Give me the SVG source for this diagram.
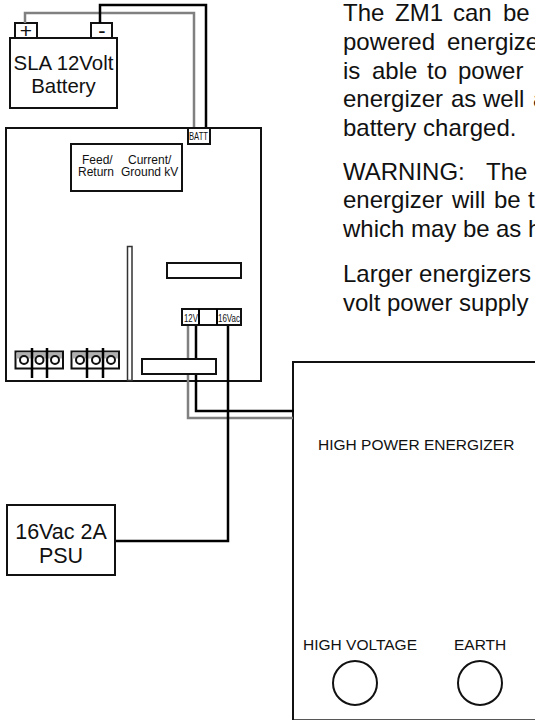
<svg xmlns="http://www.w3.org/2000/svg" width="535" height="720" viewBox="0 0 535 720">
<style>
text{font-family:"Liberation Sans",Arial,sans-serif;fill:#111}
.b{fill:#fff;stroke:#111;stroke-width:2}
.w{fill:none;stroke:#000;stroke-width:2.5}
.g{fill:none;stroke:#808080;stroke-width:2.5}
.body{font-size:24px}
.big{font-size:20.4px;text-anchor:middle}
.psu{font-size:21.5px;text-anchor:middle}
.lab{font-size:15.5px}
.small{font-size:12px}
.tiny{font-size:11.5px}
.stripe{fill:#b0b0b0}
</style>
<rect width="535" height="720" fill="#fff"/>
<g id="paragraph-text">
<text class="body" y="21"><tspan x="343">The</tspan><tspan x="395">ZM1</tspan><tspan x="453">can</tspan><tspan x="503">be</tspan></text>
<text class="body" y="50"><tspan x="343">powered</tspan><tspan x="447">energize</tspan></text>
<text class="body" y="79"><tspan x="343">is</tspan><tspan x="372">able</tspan><tspan x="427">to</tspan><tspan x="458">power</tspan></text>
<text class="body" y="107"><tspan x="343">energizer</tspan><tspan x="451">as</tspan><tspan x="483">well</tspan><tspan x="533">a</tspan></text>
<text class="body" y="136" x="343">battery charged.</text>
<text class="body" y="180"><tspan x="343">WARNING:</tspan><tspan x="486">The</tspan></text>
<text class="body" y="208"><tspan x="343">energizer</tspan><tspan x="452">will</tspan><tspan x="494">be</tspan><tspan x="528">t</tspan></text>
<text class="body" y="237"><tspan x="343">which</tspan><tspan x="411">may</tspan><tspan x="463">be</tspan><tspan x="496">as</tspan><tspan x="528">h</tspan></text>
<text class="body" y="282" x="343">Larger energizers</text>
<text class="body" y="311" x="343">volt power supply</text>
</g>
<g id="energizer">
<rect class="b" x="293" y="362" width="260" height="358.3"/>
<text class="lab" x="318" y="450">HIGH POWER ENERGIZER</text>
<text class="lab" x="303" y="650">HIGH VOLTAGE</text>
<text class="lab" x="454" y="650">EARTH</text>
<circle class="b" cx="355" cy="683" r="22"/>
<circle class="b" cx="480" cy="683" r="22"/>
</g>
<g id="board">
<rect class="b" x="6" y="128" width="255" height="253"/>
<g id="display"><rect class="b" x="71" y="144" width="111" height="47"/>
<text class="small" x="82" y="164">Feed/</text><text class="small" x="78" y="176">Return</text>
<text class="small" x="128" y="164">Current/</text><text class="small" x="121" y="176">Ground kV</text></g>
<rect x="127.5" y="246.5" width="4.5" height="134" fill="#fff" stroke="#333" stroke-width="1.5"/>
<rect class="b" x="167" y="263" width="74" height="15"/>
<g id="terminals-left"><rect class="b" x="15.5" y="351.5" width="47.5" height="17"/>
<rect class="stripe" x="16.5" y="352.5" width="45.500" height="6"/>
<circle class="b" cx="24" cy="360" r="4"/><circle class="b" cx="39.5" cy="360" r="4"/><circle class="b" cx="55" cy="360" r="4"/></g>
<g id="terminals-right"><rect class="b" x="71.5" y="351.5" width="47.5" height="17"/>
<rect class="stripe" x="72.5" y="352.5" width="45.500" height="6"/>
<circle class="b" cx="80" cy="360" r="4"/><circle class="b" cx="96" cy="360" r="4"/><circle class="b" cx="111" cy="360" r="4"/></g>
</g>
<g id="battery">
<rect class="b" x="15" y="23" width="22" height="15"/>
<rect class="b" x="91" y="23" width="21" height="15"/>
<text class="big" style="font-size:21px" x="26" y="38">+</text>
<text class="big" style="font-size:22px" x="102" y="38">-</text>
<rect class="b" x="10" y="38" width="107" height="70"/>
<text class="big" x="63.5" y="70">SLA 12Volt</text>
<text class="big" x="63.5" y="93">Battery</text>
</g>
<g id="connectors">
<path class="g" d="M25 23V13H194V128"/>
<path class="w" d="M100 23V5H206V128"/>
<path class="w" d="M32 348V378M47 348V378M87 348V378M103 348V378"/>
<path class="g" d="M188 325V418H293"/>
<path class="w" d="M196 325V411H294"/>
<path class="w" d="M228 325V541H115"/>
</g>
<g id="relay"><rect class="b" x="142" y="359" width="74" height="15"/></g>
<g id="batt-terminal"><rect class="b" x="188" y="128" width="22" height="16"/><text class="tiny" x="189" y="140" textLength="19" lengthAdjust="spacingAndGlyphs">BATT</text></g>
<g id="power-terminal"><rect class="b" x="182" y="309" width="59" height="16"/><path class="w" style="stroke-width:2" d="M199 309V325M217 309V325"/>
<text class="tiny" x="184" y="322" textLength="14" lengthAdjust="spacingAndGlyphs">12V</text>
<text class="tiny" x="218" y="322" textLength="22" lengthAdjust="spacingAndGlyphs">16Vac</text></g>
<g id="psu"><rect class="b" x="7" y="505" width="108" height="70"/>
<text class="psu" x="61" y="539">16Vac 2A</text>
<text class="psu" x="61" y="563">PSU</text></g>
</svg>
